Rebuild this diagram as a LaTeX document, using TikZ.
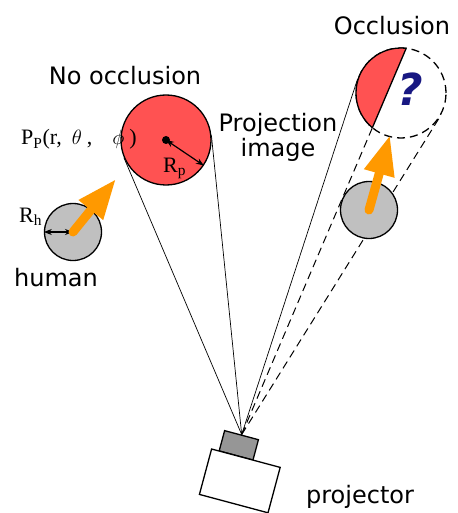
\documentclass[tikz,border=0pt]{standalone}
\usepackage{fontspec}
\setmainfont{Liberation Serif}
\setsansfont{DejaVu Sans}
\usetikzlibrary{arrows.meta,calc,intersections,backgrounds}

\definecolor{imgred}{RGB}{255,82,82}
\definecolor{humangray}{RGB}{192,192,192}
\definecolor{lensgray}{RGB}{150,150,150}
\definecolor{dirorange}{RGB}{255,153,0}
\definecolor{qnavy}{RGB}{24,24,130}

\begin{document}
\begin{tikzpicture}
[
	x=1pt, y=-1pt,
	imgcirc/.style={circle,draw,line width=1.3pt,inner sep=0pt,minimum size=90pt},
	humancirc/.style={circle,draw,fill=humangray,line width=1.3pt,inner sep=0pt,minimum size=57pt},
	lensbox/.style={draw,fill=lensgray,line width=1.3pt,minimum width=35pt,minimum height=21pt,inner sep=0pt,rotate=-15},
	bodybox/.style={draw,fill=white,line width=1.3pt,minimum width=71pt,minimum height=47pt,inner sep=0pt,rotate=-15},
	ray/.style={line width=0.7pt},
	dashray/.style={line width=1pt,dash pattern=on 8pt off 5pt},
	dirarrow/.style={draw=dirorange,line width=9pt,line cap=round,-{Triangle[length=40pt,width=29pt]}},
	radarrow/.style={line width=1.2pt,{Stealth[length=8pt,width=6pt]}-{Stealth[length=8pt,width=6pt]}},
	sanslabel/.style={font=\sffamily\fontsize{24}{25}\selectfont,inner sep=0pt},
	seriflabel/.style={font=\fontsize{22}{24}\selectfont,inner sep=0pt}
]

	\useasboundingbox (0,0) rectangle (457,513);

	% images and humans
	\node[imgcirc,fill=imgred] at (166,140) (pimg) {};
	\node[imgcirc,dash pattern=on 8pt off 5pt] at (401,93) (oimg) {};
	\node[humancirc] at (73,232) (hl) {};
	\node[humancirc] at (369,210) (hr) {};

	% projector
	\node[lensbox] at (238.8,445.3) (lens) {};
	\node[bodybox] at (239.8,480.9) (body) {};
	\coordinate (apex) at (lens.north);

	% shadow edge of the human
	\coordinate (hrleft) at (tangent cs:node=hr,point={(apex)},solution=2);
	\path[name path=chordline] (apex) -- ($(apex)!2!(hrleft)$);
	\path[name path=ocircle] (oimg.center) circle (45);
	\path[name intersections={of=chordline and ocircle,sort by=chordline,name=ci}];

	% rays
	\begin{scope}[on background layer]
		\draw[ray] (apex) -- (tangent cs:node=pimg,point={(apex)},solution=1);
		\draw[ray] (apex) -- (tangent cs:node=pimg,point={(apex)},solution=2);
		\draw[ray] (apex) -- (tangent cs:node=oimg,point={(apex)},solution=2);
		\draw[dashray] (apex) -- (tangent cs:node=oimg,point={(apex)},solution=1);
		\draw[dashray] (apex) -- (ci-1);
	\end{scope}

	% lit part of the occluded image
	\begin{scope}
		\clip (apex) -- ($(apex)!2!(hrleft)$) -- ++(-300,0) -- ($(apex)+(-300,0)$) -- cycle;
		\fill[imgred] (oimg.center) circle (45);
		\draw[line width=1.3pt] (oimg.center) circle (45);
	\end{scope}
	\draw[line width=1.3pt] (ci-1) -- (ci-2);

	% radii
	\fill (pimg.center) circle (4);
	\draw[radarrow] (pimg.center) -- (pimg.-34);
	\draw[radarrow] (hl.west) -- (hl.center);

	% directions
	\coordinate (hltip) at (116,179);
	\coordinate (hrtip) at (390,135);
	\draw[dirarrow] (hl.center) -- (hltip);
	\draw[dirarrow] (hr.center) -- (hrtip);

	% labels
	\node[sanslabel] at (125,76) (noocc) {No occlusion};
	\node[sanslabel] at (392,26) (occ) {Occlusion};
	\node[sanslabel,align=center] at (278,137) (projimg) {Projection\\image};
	\node[sanslabel] at (56,278) (human) {human};
	\node[sanslabel] at (360,497) (projector) {projector};
	\node[font=\sffamily\bfseries\itshape\fontsize{44}{50}\selectfont,text=qnavy,inner sep=0pt] at (410,89) (qm) {?};
	\node[seriflabel,anchor=base west] at (21,145) (pos) {P\textsubscript{P}(r,\hspace{10pt}$\theta$\hspace{5pt},\hspace{20pt}$\phi$\hspace{5pt})};
	\node[seriflabel,anchor=base west] at (19,222) (rh) {R\textsubscript{h}};
	\node[seriflabel,anchor=base west] at (163,172.5) (rp) {R\textsubscript{p}};

\end{tikzpicture}
\end{document}
